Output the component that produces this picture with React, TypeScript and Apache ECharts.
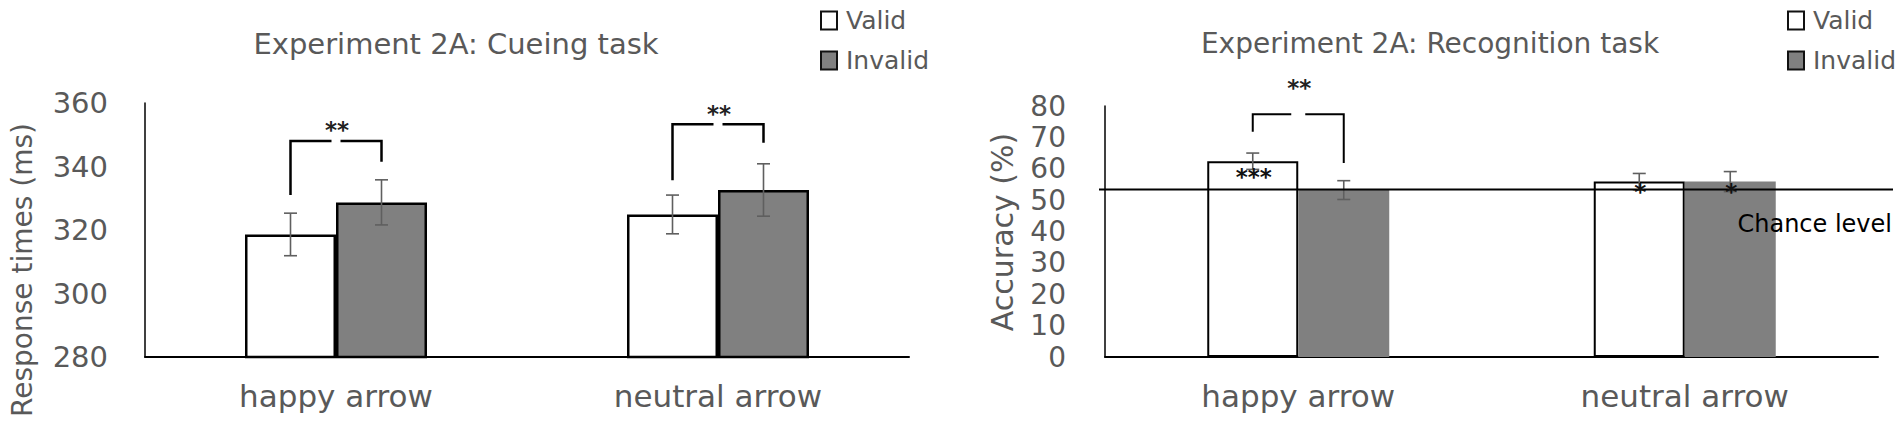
import React, { useEffect, useRef } from 'react';
import * as echarts from 'echarts';

// ---------- data ----------
const categories = ['happy arrow', 'neutral arrow'];

// Experiment 2A: Cueing task (response times, ms)
const cueValid = [318.6, 324.9];
const cueInvalid = [328.7, 332.6];
const cueValidErr = [6.7, 6.1];
const cueInvalidErr = [7.1, 8.25];
// significance brackets: [category, left foot, top, right foot, label level]
const cueBrackets = [
  [0, 331.0, 348.0, 341.5, 351.5],
  [1, 335.7, 353.3, 347.5, 356.4],
];
const cueBracketLabels = ['**', '**'];

// Experiment 2A: Recognition task (accuracy, %)
const recValid = [62.4, 55.9];
const recInvalid = [53.2, 55.9];
const recValidErr = [2.6, 2.6];
const recInvalidErr = [3.0, 3.2];
const chanceLevel = 53.4;
const recBrackets = [[0, 71.8, 77.4, 61.8, 85.6]];
const recBracketLabels = ['**'];
// stars vs chance: [category, side(-1 valid / +1 invalid), level]
const recStars = [
  [0, -1, 57.5],
  [1, -1, 52.7],
  [1, 1, 52.7],
];
const recStarLabels = ['***', '*', '*'];

// ---------- styles ----------
const FONT = 'DejaVu Sans';
const GREY_TEXT = '#595959';
const BAR_W = 91;

function errorSeries(grid: number, values: number[], errs: number[], side: number) {
  return {
    type: 'custom',
    xAxisIndex: grid,
    yAxisIndex: grid,
    z: 5,
    silent: true,
    data: values.map((v, i) => [i, v - errs[i], v + errs[i]]),
    renderItem: (params: any, api: any) => {
      const cat = api.value(0);
      const lo = api.coord([cat, api.value(1)]);
      const hi = api.coord([cat, api.value(2)]);
      const x = lo[0] + (side * BAR_W) / 2;
      const st = { stroke: '#5f5f5f', lineWidth: 1.6 };
      const hc = 6.5;
      return {
        type: 'group',
        children: [
          { type: 'line', shape: { x1: x, y1: lo[1], x2: x, y2: hi[1] }, style: st },
          { type: 'line', shape: { x1: x - hc, y1: hi[1], x2: x + hc, y2: hi[1] }, style: st },
          { type: 'line', shape: { x1: x - hc, y1: lo[1], x2: x + hc, y2: lo[1] }, style: st },
        ],
      };
    },
  };
}

function bracketSeries(grid: number, rows: number[][], labels: string[], gapHalf: number, lw: number) {
  return {
    type: 'custom',
    xAxisIndex: grid,
    yAxisIndex: grid,
    z: 6,
    silent: true,
    clip: false,
    data: rows,
    renderItem: (params: any, api: any) => {
      const cat = api.value(0);
      const pL = api.coord([cat, api.value(1)]);
      const yT = api.coord([cat, api.value(2)])[1];
      const yR = api.coord([cat, api.value(3)])[1];
      const yS = api.coord([cat, api.value(4)])[1];
      const cx = pL[0];
      const xL = cx - BAR_W / 2;
      const xR = cx + BAR_W / 2;
      const st = { stroke: '#000', lineWidth: lw, fill: 'none' };
      return {
        type: 'group',
        children: [
          { type: 'polyline', shape: { points: [[xL, pL[1]], [xL, yT], [cx - gapHalf, yT]] }, style: st },
          { type: 'polyline', shape: { points: [[cx + gapHalf, yT], [xR, yT], [xR, yR]] }, style: st },
          {
            type: 'text',
            x: cx + 1,
            y: yS,
            style: {
              text: labels[params.dataIndex],
              align: 'center',
              verticalAlign: 'middle',
              fontSize: 23,
              fontWeight: 'bold',
              fontFamily: FONT,
              fill: '#222',
            },
          },
        ],
      };
    },
  };
}

export default function App() {
  const ref = useRef<HTMLDivElement>(null);

  useEffect(() => {
    if (!ref.current) return;
    const chart = echarts.init(ref.current, undefined, { renderer: 'svg' });

    const xAxisCommon = {
      type: 'category',
      data: categories,
      axisLine: { show: true, lineStyle: { color: '#000', width: 2 } },
      axisTick: { show: false },
      axisLabel: { fontSize: 31, color: GREY_TEXT, fontFamily: FONT, margin: 23 },
      splitLine: { show: false },
    };

    const legendData = [
      { name: 'Valid', icon: 'rect', itemStyle: { color: '#fff', borderColor: '#111', borderWidth: 2 } },
      { name: 'Invalid', icon: 'rect', itemStyle: { color: '#808080', borderColor: '#111', borderWidth: 2 } },
    ];
    const legendCommon = {
      orient: 'vertical',
      top: 3,
      itemWidth: 16,
      itemHeight: 18,
      itemGap: 15,
      selectedMode: false,
      icon: 'rect',
      textStyle: { fontSize: 25, color: GREY_TEXT, fontFamily: FONT, padding: [0, 0, 0, 4] },
      data: legendData,
    };

    const option: any = {
      animation: false,
      backgroundColor: '#fff',
      title: [
        {
          text: 'Experiment 2A: Cueing task',
          left: 451,
          top: 24,
          textAlign: 'center',
          textStyle: { fontSize: 29, fontWeight: 'normal', color: GREY_TEXT, fontFamily: FONT },
        },
        {
          text: 'Experiment 2A: Recognition task',
          left: 1425,
          top: 24,
          textAlign: 'center',
          textStyle: { fontSize: 28, fontWeight: 'normal', color: GREY_TEXT, fontFamily: FONT },
        },
      ],
      legend: [
        { ...legendCommon, left: 815 },
        { ...legendCommon, left: 1782 },
      ],
      grid: [
        { left: 145, top: 103, width: 764, height: 254 },
        { left: 1105, top: 106, width: 773, height: 251 },
      ],
      xAxis: [
        { ...xAxisCommon, gridIndex: 0 },
        { ...xAxisCommon, gridIndex: 1 },
      ],
      yAxis: [
        {
          type: 'value',
          gridIndex: 0,
          min: 280,
          max: 360,
          interval: 20,
          axisLine: { show: true, lineStyle: { color: '#000', width: 1.5 } },
          axisTick: { show: false },
          splitLine: { show: false },
          axisLabel: { fontSize: 29, color: GREY_TEXT, fontFamily: FONT, margin: 37 },
        },
        {
          type: 'value',
          gridIndex: 1,
          min: 0,
          max: 80,
          interval: 10,
          axisLine: { show: true, lineStyle: { color: '#000', width: 1.5 } },
          axisTick: { show: false },
          splitLine: { show: false },
          axisLabel: { fontSize: 28, color: GREY_TEXT, fontFamily: FONT, margin: 39 },
        },
      ],
      graphic: [
        {
          type: 'text',
          x: 22,
          y: 270,
          rotation: Math.PI / 2,
          style: {
            text: 'Response times (ms)',
            align: 'center',
            verticalAlign: 'middle',
            fontSize: 28,
            fill: GREY_TEXT,
            fontFamily: FONT,
          },
        },
        {
          type: 'text',
          x: 1002,
          y: 232,
          rotation: Math.PI / 2,
          style: {
            text: 'Accuracy (%)',
            align: 'center',
            verticalAlign: 'middle',
            fontSize: 30,
            fill: GREY_TEXT,
            fontFamily: FONT,
          },
        },
      ],
      series: [
        {
          name: 'Valid',
          type: 'bar',
          xAxisIndex: 0,
          yAxisIndex: 0,
          barWidth: BAR_W,
          barGap: '0%',
          data: cueValid,
          itemStyle: { color: '#fff', borderColor: '#000', borderWidth: 2.5 },
        },
        {
          name: 'Invalid',
          type: 'bar',
          xAxisIndex: 0,
          yAxisIndex: 0,
          barWidth: BAR_W,
          barGap: '0%',
          data: cueInvalid,
          itemStyle: { color: '#808080', borderColor: '#000', borderWidth: 2.5 },
        },
        {
          name: 'Valid',
          type: 'bar',
          xAxisIndex: 1,
          yAxisIndex: 1,
          barWidth: BAR_W,
          barGap: '0%',
          data: recValid,
          itemStyle: { color: '#fff', borderColor: '#000', borderWidth: 2 },
        },
        {
          name: 'Invalid',
          type: 'bar',
          xAxisIndex: 1,
          yAxisIndex: 1,
          barWidth: BAR_W,
          barGap: '0%',
          data: recInvalid,
          itemStyle: { color: '#808080', borderWidth: 0 },
        },
        errorSeries(0, cueValid, cueValidErr, -1),
        errorSeries(0, cueInvalid, cueInvalidErr, 1),
        errorSeries(1, recValid, recValidErr, -1),
        errorSeries(1, recInvalid, recInvalidErr, 1),
        bracketSeries(0, cueBrackets, cueBracketLabels, 4.5, 2.5),
        bracketSeries(1, recBrackets, recBracketLabels, 7, 2),
        {
          type: 'custom',
          xAxisIndex: 1,
          yAxisIndex: 1,
          z: 7,
          silent: true,
          clip: false,
          data: [[0, chanceLevel]],
          renderItem: (params: any, api: any) => {
            const cs = params.coordSys;
            const y = api.coord([0, api.value(1)])[1];
            return {
              type: 'group',
              children: [
                {
                  type: 'line',
                  shape: { x1: cs.x - 6, y1: y, x2: cs.x + cs.width + 15, y2: y },
                  style: { stroke: '#000', lineWidth: 2 },
                },
                {
                  type: 'text',
                  x: cs.x + cs.width + 14,
                  y: y + 35,
                  style: {
                    text: 'Chance level',
                    align: 'right',
                    verticalAlign: 'middle',
                    fontSize: 24,
                    fontFamily: FONT,
                    fill: '#000',
                  },
                },
              ],
            };
          },
        },
        {
          type: 'custom',
          xAxisIndex: 1,
          yAxisIndex: 1,
          z: 8,
          silent: true,
          clip: false,
          data: recStars,
          renderItem: (params: any, api: any) => {
            const p = api.coord([api.value(0), api.value(2)]);
            const x = p[0] + (api.value(1) * BAR_W) / 2;
            return {
              type: 'text',
              x: x + 1,
              y: p[1],
              style: {
                text: recStarLabels[params.dataIndex],
                align: 'center',
                verticalAlign: 'middle',
                fontSize: 23,
                fontWeight: 'bold',
                fontFamily: FONT,
                fill: '#111',
              },
            };
          },
        },
      ],
    };

    chart.setOption(option);
    return () => chart.dispose();
  }, []);

  return (
    <div
      ref={ref}
      style={{ position: 'fixed', left: 0, top: 0, width: 1901, height: 433, background: '#fff' }}
    />
  );
}
